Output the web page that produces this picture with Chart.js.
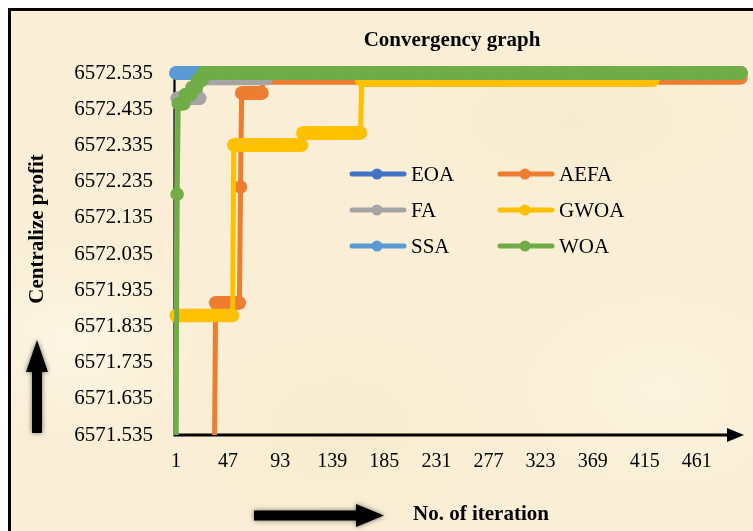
<!DOCTYPE html>
<html>
<head>
<meta charset="utf-8">
<script src="https://cdn.jsdelivr.net/npm/chart.js@4.4.0/dist/chart.umd.min.js"></script>
<style>
html,body{margin:0;padding:0;background:#ffffff;width:753px;height:531px;overflow:hidden;}
#frame{position:absolute;left:8px;top:8px;width:770px;height:560px;box-sizing:border-box;border:3px solid #000;
background:
 radial-gradient(ellipse 180px 140px at 60px 330px, rgba(255,252,240,0.55), rgba(255,252,240,0) 70%),
 radial-gradient(ellipse 260px 120px at 560px 110px, rgba(240,224,186,0.3), rgba(240,224,186,0) 70%),
 radial-gradient(ellipse 220px 160px at 330px 420px, rgba(242,226,190,0.3), rgba(242,226,190,0) 70%),
 radial-gradient(ellipse 200px 140px at 650px 380px, rgba(255,250,236,0.45), rgba(255,250,236,0) 70%),
 #FAEFD6;}
#wrap{position:absolute;left:0;top:0;width:753px;height:531px;}
</style>
</head>
<body>
<div id="frame"></div>
<div id="wrap"><canvas id="c" width="753" height="531"></canvas></div>
<script>
// ---- data ----
const iterationCount = 500;
const xTickLabels = [1, 47, 93, 139, 185, 231, 277, 323, 369, 415, 461];
const yTickLabels = [6571.535, 6571.635, 6571.735, 6571.835, 6571.935, 6572.035, 6572.135, 6572.235, 6572.335, 6572.435, 6572.535];

const seriesNames = ['EOA', 'AEFA', 'FA', 'GWOA', 'SSA', 'WOA'];
const seriesColors = ['#4472C4', '#ED7D31', '#A5A5A5', '#FFC000', '#5B9BD5', '#70AD47'];

// step series: value holds from the listed iteration until the next listed one
const eoaIters   = [1];
const eoaValues  = [6572.535];
const aefaIters  = [1, 36, 58, 59, 78];
const aefaValues = [6571.50, 6571.90, 6572.22, 6572.48, 6572.522];
const faIters    = [1, 2, 23, 82];
const faValues   = [6571.50, 6572.465, 6572.52, 6572.535];
const gwoaIters  = [1, 52, 113, 165, 423];
const gwoaValues = [6571.865, 6572.336, 6572.369, 6572.515, 6572.535];
const ssaIters   = [1];
const ssaValues  = [6572.535];
const woaIters   = [1, 2, 3, 9, 15, 20, 25];
const woaValues  = [6571.50, 6572.20, 6572.45, 6572.475, 6572.495, 6572.515, 6572.535];

const seriesIters  = [eoaIters, aefaIters, faIters, gwoaIters, ssaIters, woaIters];
const seriesValues = [eoaValues, aefaValues, faValues, gwoaValues, ssaValues, woaValues];

function expandSteps(iters, values) {
  const pts = [];
  let k = 0;
  for (let i = 1; i <= iterationCount; i++) {
    while (k + 1 < iters.length && iters[k + 1] <= i) k++;
    pts.push({x: i, y: values[k]});
  }
  return pts;
}

const SERIF = '"Liberation Serif", "Times New Roman", serif';

const datasets = seriesNames.map((name, idx) => ({
  label: name,
  order: seriesNames.length - idx, // later series drawn on top
  data: expandSteps(seriesIters[idx], seriesValues[idx]),
  borderColor: seriesColors[idx],
  backgroundColor: seriesColors[idx],
  pointBackgroundColor: seriesColors[idx],
  pointBorderWidth: 0,
  pointRadius: 6.75,
  pointHoverRadius: 6.75,
  borderWidth: 5,
  borderCapStyle: 'round',
  borderJoinStyle: 'round',
  tension: 0,
  clip: {left: 12, top: 12, right: 12, bottom: 0}
}));

const deco = {
  id: 'deco',
  beforeDatasetsDraw(chart) {
    const {ctx, chartArea: a} = chart;
    ctx.save();
    ctx.strokeStyle = '#000'; ctx.fillStyle = '#000';
    ctx.lineWidth = 2.2;
    ctx.beginPath(); ctx.moveTo(a.left - 1.5, a.top); ctx.lineTo(a.left - 1.5, a.bottom); ctx.stroke();
    ctx.lineWidth = 3;
    ctx.beginPath(); ctx.moveTo(a.left - 2.5, a.bottom); ctx.lineTo(a.right - 12, a.bottom); ctx.stroke();
    ctx.beginPath();
    ctx.moveTo(a.right - 14, a.bottom - 7);
    ctx.lineTo(a.right + 3, a.bottom);
    ctx.lineTo(a.right - 14, a.bottom + 7);
    ctx.closePath(); ctx.fill();
    ctx.restore();
  },
  afterDraw(chart) {
    const {ctx} = chart;
    ctx.save();
    // legend
    const cols = [350, 498];
    const rows = [174, 210, 246];
    seriesNames.forEach((name, i) => {
      const x0 = cols[i % 2], y = rows[Math.floor(i / 2)];
      ctx.strokeStyle = seriesColors[i];
      ctx.fillStyle = seriesColors[i];
      ctx.lineWidth = 5; ctx.lineCap = 'round';
      ctx.beginPath(); ctx.moveTo(x0 + 2, y); ctx.lineTo(x0 + 54, y); ctx.stroke();
      ctx.beginPath(); ctx.arc(x0 + 27, y, 5.5, 0, Math.PI * 2); ctx.fill();
      ctx.fillStyle = '#000';
      ctx.font = '21px ' + SERIF;
      ctx.textAlign = 'left'; ctx.textBaseline = 'middle';
      ctx.fillText(name, x0 + 61, y + 1);
    });
    // titles
    ctx.fillStyle = '#000';
    ctx.font = 'bold 21px ' + SERIF;
    ctx.textAlign = 'center'; ctx.textBaseline = 'middle';
    ctx.fillText('Convergency graph', 452, 41);
    ctx.fillText('No. of iteration', 481, 515);
    ctx.save();
    ctx.translate(38, 229);
    ctx.rotate(-Math.PI / 2);
    ctx.fillText('Centralize profit', 0, 0);
    ctx.restore();
    // arrows
    ctx.shadowColor = 'rgba(0,0,0,0.55)';
    ctx.shadowBlur = 5;
    ctx.fillStyle = '#000';
    ctx.beginPath();
    ctx.moveTo(32, 433); ctx.lineTo(32, 372); ctx.lineTo(26, 372);
    ctx.lineTo(37, 340); ctx.lineTo(48, 372); ctx.lineTo(42, 372); ctx.lineTo(42, 433);
    ctx.closePath(); ctx.fill();
    ctx.beginPath();
    ctx.moveTo(254, 510.5); ctx.lineTo(356, 510.5); ctx.lineTo(356, 504);
    ctx.lineTo(384, 515.5); ctx.lineTo(356, 527); ctx.lineTo(356, 520.5); ctx.lineTo(254, 520.5);
    ctx.closePath(); ctx.fill();
    ctx.restore();
  }
};

new Chart(document.getElementById('c'), {
  type: 'line',
  data: {datasets},
  options: {
    responsive: false,
    animation: false,
    events: [],
    layout: {padding: {left: 0, top: 73, right: 12, bottom: 0}},
    plugins: {legend: {display: false}, title: {display: false}, tooltip: {enabled: false}},
    scales: {
      x: {
        type: 'linear', min: 1, max: iterationCount,
        grid: {display: false, drawTicks: false},
        border: {display: false},
        afterFit(s) { s.height = 96; },
        afterBuildTicks(s) { s.ticks = xTickLabels.map(v => ({value: v})); },
        ticks: {autoSkip: false, maxRotation: 0, padding: 15, color: '#000',
                font: {family: SERIF, size: 20},
                callback: v => String(v)}
      },
      y: {
        type: 'linear', min: yTickLabels[0], max: yTickLabels[yTickLabels.length - 1],
        grid: {display: false, drawTicks: false},
        border: {display: false},
        afterFit(s) { s.width = 176; },
        afterBuildTicks(s) { s.ticks = yTickLabels.map(v => ({value: v})); },
        ticks: {autoSkip: false, padding: 23, color: '#000',
                font: {family: SERIF, size: 21},
                callback: v => Number(v).toFixed(3)}
      }
    }
  },
  plugins: [deco]
});
</script>
</body>
</html>
